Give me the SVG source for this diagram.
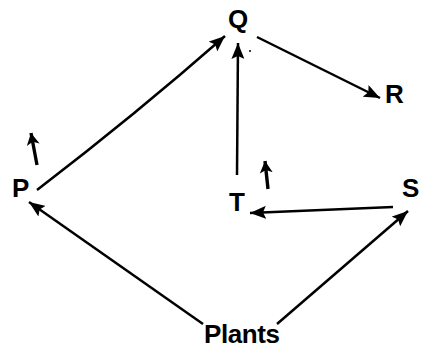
<svg xmlns="http://www.w3.org/2000/svg" width="421" height="351" viewBox="0 0 421 351">
<style>
.lbl{font-family:"Liberation Sans",Arial,sans-serif;font-weight:bold;font-size:26px;fill:#000}
.edge{stroke:#000;stroke-width:2.5;fill:none;marker-end:url(#ah)}
.small{stroke:#000;stroke-width:3.4;fill:none;marker-end:url(#ahs)}
</style>
<defs>
<marker id="ah" markerUnits="userSpaceOnUse" markerWidth="17" markerHeight="13" refX="16" refY="6.5" orient="auto">
<path d="M0,0 L16,6.5 L0,13 L3,6.5 Z" fill="#000"/>
</marker>
<marker id="ahs" markerUnits="userSpaceOnUse" markerWidth="14" markerHeight="14" refX="12" refY="7" orient="auto">
<path d="M0,0.5 L12,7 L0,13.5 L3,7 Z" fill="#000"/>
</marker>
</defs>
<rect width="421" height="351" fill="#fff"/>
<g id="connectors">
<path class="edge" d="M37,190 Q135,115 225,36"/>
<line class="edge" x1="237" y1="175" x2="238" y2="43"/>
<line class="edge" x1="257" y1="37" x2="380" y2="98"/>
<line class="edge" x1="393" y1="207" x2="250" y2="213"/>
<line class="edge" x1="203" y1="324" x2="29" y2="202"/>
<line class="edge" x1="277" y1="324" x2="408" y2="211"/>
<line class="small" x1="37" y1="165" x2="31" y2="133"/>
<line class="small" x1="268" y1="189" x2="265" y2="161"/>
<circle cx="250" cy="51" r="1" fill="#000"/>
</g>
<g id="node-Q"><text class="lbl" x="238" y="28" text-anchor="middle">Q</text></g>
<g id="node-R"><text class="lbl" x="385" y="103">R</text></g>
<g id="node-P"><text class="lbl" x="12" y="197">P</text></g>
<g id="node-T"><text class="lbl" x="237" y="211" text-anchor="middle">T</text></g>
<g id="node-S"><text class="lbl" x="402" y="197">S</text></g>
<g id="node-Plants"><text class="lbl" x="242" y="343" text-anchor="middle" textLength="76">Plants</text></g>
</svg>
